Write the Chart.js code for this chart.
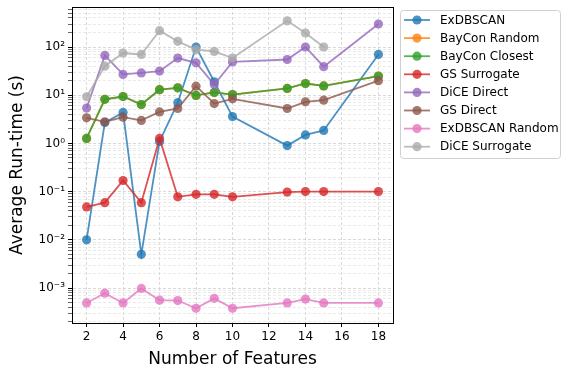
<!DOCTYPE html>
<html>
<head>
<meta charset="utf-8">
<script src="https://cdn.jsdelivr.net/npm/chart.js@4/dist/chart.umd.min.js"></script>
<style>
  html, body { margin: 0; padding: 0; background: #fff; }
  #wrap { width: 562px; height: 370px; }
</style>
</head>
<body>
<div id="wrap"><canvas id="runtimeChart" width="562" height="370"></canvas></div>
<script>
const features = [2, 3, 4, 5, 6, 7, 8, 9, 10, 13, 14, 15, 18];

const exdbscan = [0.01, 2.7, 4.4, 0.005, 1.1, 7, 100, 19, 3.6, 0.9, 1.5, 1.86, 70];
const bayconRandom = [1.27, 8.2, 9.4, 6.4, 13, 14.2, 9.9, 11.4, 10.3, 13.8, 17.5, 15.6, 25];
const bayconClosest = [1.27, 8.2, 9.4, 6.4, 13, 14.2, 9.9, 11.4, 10.3, 13.8, 17.5, 15.6, 25];
const gsSurrogate = [0.048, 0.059, 0.17, 0.059, 1.27, 0.078, 0.088, 0.088, 0.078, 0.098, 0.1, 0.1, 0.1];
const diceDirect = [5.4, 67, 27, 29, 31.6, 59, 47, 16.6, 49, 55, 100, 39, 300];
const gsDirect = [3.4, 2.8, 3.5, 3.0, 4.5, 5.3, 15.4, 6.7, 8.4, 5.3, 7.3, 7.9, 20];
const exdbscanRandom = [0.00049, 0.00078, 0.00049, 0.00098, 0.00056, 0.00055, 0.00038, 0.00061, 0.00038, 0.00049, 0.00059, 0.00049, 0.00049];
const diceSurrogate = [9.3, 40, 75, 70, 218, 131, 88, 81, 59, 350, 195, 100, null];

const seriesNames = ["ExDBSCAN", "BayCon Random", "BayCon Closest", "GS Surrogate",
                     "DiCE Direct", "GS Direct", "ExDBSCAN Random", "DiCE Surrogate"];
const seriesValues = [exdbscan, bayconRandom, bayconClosest, gsSurrogate,
                      diceDirect, gsDirect, exdbscanRandom, diceSurrogate];
const seriesColors = ["31,119,180", "255,127,14", "44,160,44", "214,39,40",
                      "148,103,189", "140,86,75", "227,119,194", "170,170,170"];

const xTicks = [2, 4, 6, 8, 10, 12, 14, 16, 18];
const yDecades = [-4, -3, -2, -1, 0, 1, 2];

const FONT = "'DejaVu Sans', sans-serif";
const ALPHA = 0.8;

function sup(n) {
    const map = {"-": "\u207B", "0": "\u2070", "1": "\u00B9", "2": "\u00B2", "3": "\u00B3",
                 "4": "\u2074", "5": "\u2075", "6": "\u2076", "7": "\u2077", "8": "\u2078", "9": "\u2079"};
    return String(n).split("").map(c => map[c]).join("");
}

let datasets = seriesNames.map(function(name, i) {
    let col = "rgba(" + seriesColors[i] + "," + ALPHA + ")";
    return {
        label: name,
        data: features.map((x, k) => ({x: x, y: seriesValues[i][k]})),
        borderColor: col,
        backgroundColor: col,
        borderWidth: 1.8,
        pointRadius: 4.6,
        pointHoverRadius: 4.6,
        pointBorderWidth: 0,
        spanGaps: false,
        // matplotlib draws later series on top
        order: seriesNames.length - i
    };
});

// top/right spines plus a matplotlib-like legend box outside the axes
const frameAndLegend = {
    id: "frameAndLegend",
    afterDraw(chart) {
        let ctx = chart.ctx;
        let a = chart.chartArea;
        ctx.save();
        ctx.strokeStyle = "#000";
        ctx.lineWidth = 1;
        ctx.strokeRect(Math.round(a.left) + 0.5, Math.round(a.top) + 0.5,
                       Math.round(a.right - a.left), Math.round(a.bottom - a.top));

        let bx = 400, by = 10, bw = 160, bh = 148;
        ctx.strokeStyle = "#d0d0d0";
        ctx.fillStyle = "rgba(255,255,255,0.8)";
        ctx.beginPath();
        ctx.roundRect(bx + 0.5, by + 0.5, bw, bh, 3);
        ctx.fill();
        ctx.stroke();

        ctx.font = "12px " + FONT;
        ctx.textBaseline = "middle";
        chart.data.datasets.forEach(function(ds, i) {
            let cy = 20 + i * 18.1;
            ctx.strokeStyle = ds.borderColor;
            ctx.lineWidth = 1.8;
            ctx.beginPath();
            ctx.moveTo(404, cy);
            ctx.lineTo(430, cy);
            ctx.stroke();
            ctx.fillStyle = ds.backgroundColor;
            ctx.beginPath();
            ctx.arc(417, cy, 4.6, 0, Math.PI * 2);
            ctx.fill();
            ctx.fillStyle = "#000";
            ctx.fillText(ds.label, 440, cy + 0.5);
        });
        ctx.restore();
    }
};

let ctx = document.getElementById("runtimeChart").getContext("2d");

new Chart(ctx, {
    type: "line",
    data: { datasets: datasets },
    plugins: [frameAndLegend],
    options: {
        responsive: false,
        animation: false,
        layout: { padding: { top: 7, right: 169, bottom: 0, left: 0 } },
        plugins: {
            tooltip: { enabled: false },
            legend: { display: false }
        },
        scales: {
            x: {
                type: "linear",
                min: 1.2,
                max: 18.8,
                afterBuildTicks: function(scale) {
                    scale.ticks = xTicks.map(v => ({value: v}));
                },
                afterFit: function(scale) {
                    scale.height = 47;
                },
                ticks: {
                    font: { family: FONT, size: 12 },
                    color: "#000",
                    padding: 3,
                    maxRotation: 0
                },
                grid: {
                    color: "#cfcfcf",
                    lineWidth: 0.8,
                    tickColor: "#000",
                    tickLength: 4,
                    tickWidth: 1
                },
                border: { color: "#000", width: 1, dash: [3, 2] },
                title: {
                    display: true,
                    text: "Number of Features",
                    font: { family: FONT, size: 17 },
                    color: "#000",
                    padding: { top: 1, bottom: 0 }
                }
            },
            y: {
                type: "logarithmic",
                min: 1.88e-4,
                max: 676,
                afterBuildTicks: function(scale) {
                    let t = [];
                    yDecades.forEach(function(d) {
                        for (let m = 1; m <= 9; m++) {
                            let v = m * Math.pow(10, d);
                            if (v >= scale.min && v <= scale.max) t.push({value: v, major: m === 1});
                        }
                    });
                    scale.ticks = t;
                },
                afterFit: function(scale) {
                    scale.width = 72;
                    scale.paddingTop = 0;
                    scale.paddingBottom = 0;
                },
                ticks: {
                    autoSkip: false,
                    font: { family: FONT, size: 12 },
                    color: "#000",
                    padding: 3,
                    callback: function(v) {
                        let e = Math.log10(v);
                        if (Math.abs(e - Math.round(e)) < 1e-9) return "10" + sup(Math.round(e));
                        return "";
                    }
                },
                grid: {
                    color: function(c) {
                        return c.tick && c.tick.major ? "#cfcfcf" : "#e4e4e4";
                    },
                    lineWidth: 0.8,
                    tickColor: "#000",
                    tickLength: 4,
                    tickWidth: function(c) {
                        return c.tick && c.tick.major ? 1 : 0.6;
                    }
                },
                border: { color: "#000", width: 1, dash: [3, 2] },
                title: {
                    display: true,
                    text: "Average Run-time (s)",
                    font: { family: FONT, size: 17 },
                    color: "#000",
                    padding: { top: 7, bottom: 4 }
                }
            }
        }
    }
});
</script>
</body>
</html>
